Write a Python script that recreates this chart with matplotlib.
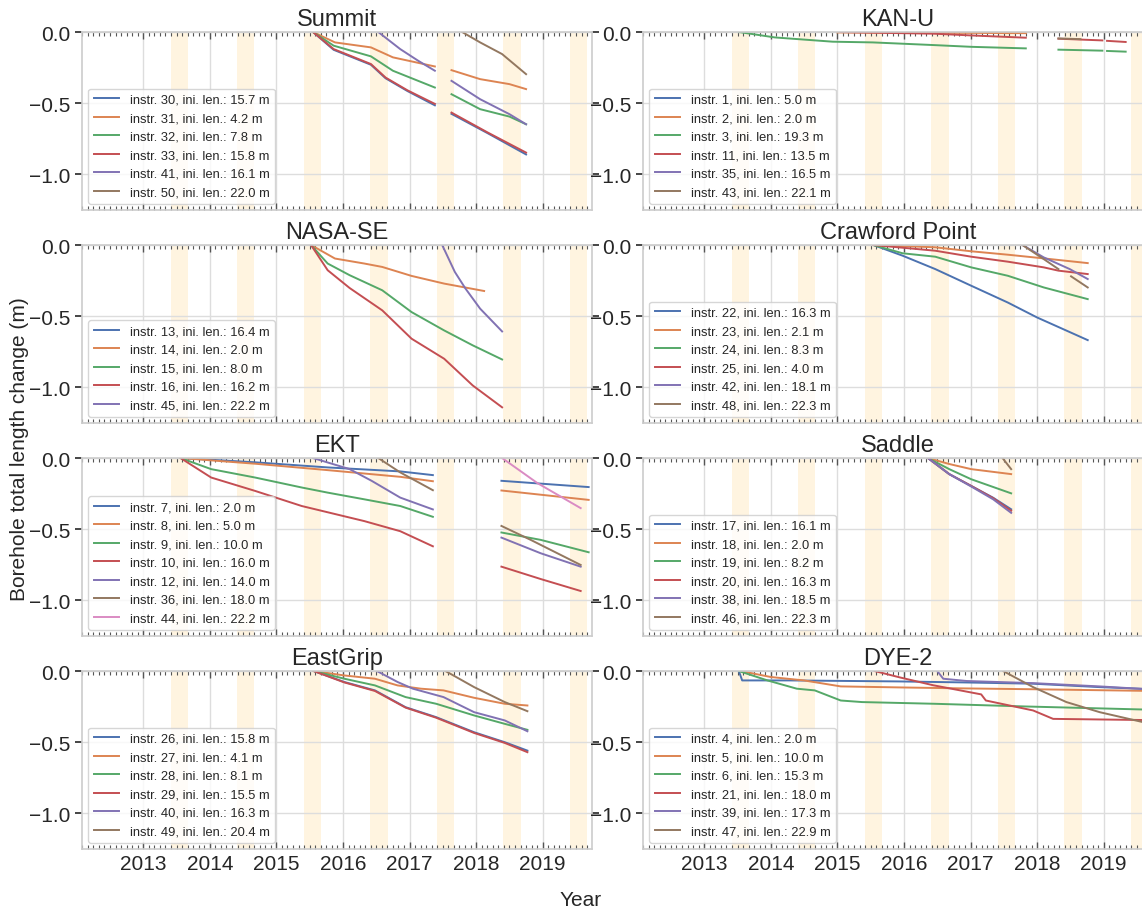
import numpy as np
import matplotlib
matplotlib.use("Agg")
import matplotlib.pyplot as plt
from matplotlib.ticker import MultipleLocator

plt.rcParams['font.family'] = ['Liberation Sans', 'DejaVu Sans']
plt.rcParams['axes.edgecolor'] = '#cccccc'
plt.rcParams['axes.linewidth'] = 1.2
plt.rcParams['text.color'] = '#262626'
plt.rcParams['xtick.color'] = '#262626'
plt.rcParams['ytick.color'] = '#262626'

colors = ['#4c72b0', '#dd8452', '#55a868', '#c44e52', '#8172b3', '#937860', '#da8bc3']
N = None  # data gap

# ---- Summit
summit_instr = [30, 31, 32, 33, 41, 50]
summit_len = [15.7, 4.2, 7.8, 15.8, 16.1, 22.0]
summit_x = [
    [2015.55, 2015.86, 2016.42, 2016.64, 2016.97, 2017.38, N, 2017.63, 2018.17, 2018.75],
    [2015.55, 2015.88, 2016.42, 2016.75, 2017.38, N, 2017.63, 2018.06, 2018.50, 2018.75],
    [2015.55, 2015.86, 2016.42, 2016.75, 2017.38, N, 2017.63, 2018.06, 2018.50, 2018.75],
    [2015.55, 2015.86, 2016.42, 2016.64, 2016.97, 2017.38, N, 2017.63, 2018.17, 2018.75],
    [2016.53, 2016.86, 2017.13, 2017.38, N, 2017.63, 2018.06, 2018.50, 2018.75],
    [2017.79, 2018.06, 2018.39, 2018.75],
]
summit_y = [
    [0.0, -0.125, -0.23, -0.325, -0.415, -0.515, N, -0.575, -0.71, -0.86],
    [0.0, -0.073, -0.108, -0.178, -0.242, N, -0.268, -0.331, -0.366, -0.401],
    [0.0, -0.096, -0.171, -0.272, -0.39, N, -0.437, -0.542, -0.594, -0.648],
    [0.0, -0.12, -0.225, -0.32, -0.41, -0.505, N, -0.566, -0.705, -0.847],
    [0.0, -0.12, -0.202, -0.272, N, -0.343, -0.472, -0.577, -0.648],
    [0.0, -0.073, -0.155, -0.296],
]

# ---- KAN-U
kanu_instr = [1, 2, 3, 11, 35, 43]
kanu_len = [5.0, 2.0, 19.3, 13.5, 16.5, 22.1]
kanu_x = [
    [],
    [2015.0, 2016.0, 2017.0, 2017.83],
    [2013.52, 2014.06, 2014.93, 2015.53, 2016.46, 2017.01, 2017.83, N,
     2018.32, 2018.98, N, 2019.05, 2019.33],
    [2015.05, 2015.6, 2016.46, 2017.01, 2017.83, N,
     2018.32, 2018.98, N, 2019.05, 2019.33],
    [],
    [2018.32, 2018.65],
]
kanu_y = [
    [],
    [-0.003, -0.005, -0.006, -0.008],
    [0.0, -0.038, -0.068, -0.073, -0.092, -0.104, -0.115, N,
     -0.124, -0.131, N, -0.133, -0.138],
    [0.0, -0.005, -0.012, -0.024, -0.04, N,
     -0.047, -0.059, N, -0.062, -0.07],
    [],
    [-0.045, -0.05],
]

# ---- NASA-SE
nasase_instr = [13, 14, 15, 16, 45]
nasase_len = [16.4, 2.0, 8.0, 16.2, 22.2]
nasase_x = [
    [],
    [2015.52, 2015.88, 2016.32, 2016.59, 2017.03, 2017.52, 2018.12],
    [2015.52, 2015.77, 2016.10, 2016.59, 2017.03, 2017.52, 2017.95, 2018.39],
    [2015.52, 2015.77, 2016.10, 2016.59, 2017.03, 2017.52, 2017.95, 2018.39],
    [2017.49, 2017.68, 2017.84, 2018.06, 2018.39],
]
nasase_y = [
    [],
    [0.0, -0.095, -0.13, -0.154, -0.217, -0.271, -0.323],
    [0.0, -0.13, -0.212, -0.318, -0.471, -0.6, -0.705, -0.804],
    [0.0, -0.177, -0.302, -0.459, -0.658, -0.799, -0.987, -1.14],
    [0.0, -0.189, -0.306, -0.447, -0.607],
]

# ---- Crawford Point
crawford_instr = [22, 23, 24, 25, 42, 48]
crawford_len = [16.3, 2.1, 8.3, 4.0, 18.1, 22.3]
crawford_x = [
    [2015.54, 2015.98, 2016.47, 2017.01, 2017.56, 2018.0, 2018.76],
    [2015.54, 2016.47, 2017.01, 2017.56, 2018.10, 2018.76],
    [2015.54, 2015.98, 2016.47, 2017.01, 2017.56, 2018.10, 2018.76],
    [2015.54, 2016.47, 2017.01, 2017.56, 2018.10, 2018.32, 2018.76],
    [2017.78, 2018.10, 2018.49, 2018.76],
    [2017.78, 2018.10, 2018.32, N, 2018.51, 2018.76],
]
crawford_y = [
    [0.0, -0.075, -0.169, -0.286, -0.404, -0.509, -0.668],
    [0.0, -0.016, -0.044, -0.068, -0.094, -0.127],
    [0.0, -0.058, -0.082, -0.157, -0.216, -0.298, -0.38],
    [0.0, -0.04, -0.082, -0.117, -0.157, -0.18, -0.204],
    [0.0, -0.087, -0.169, -0.239],
    [0.0, -0.099, -0.169, N, -0.22, -0.298],
]

# ---- EKT
ekt_instr = [7, 8, 9, 10, 12, 36, 44]
ekt_len = [2.0, 5.0, 10.0, 16.0, 14.0, 18.0, 22.2]
ekt_x = [
    [2013.56, 2014.68, 2015.77, 2016.86, 2017.35, N, 2018.38, 2019.69],
    [2013.56, 2014.68, 2015.77, 2016.86, 2017.35, N, 2018.38, 2019.69],
    [2013.56, 2014.02, 2014.68, 2015.38, 2015.77, 2016.32, 2016.86, 2017.35, N,
     2018.38, 2018.97, 2019.69],
    [2013.56, 2014.02, 2014.68, 2015.38, 2016.32, 2016.86, 2017.35, N,
     2018.38, 2018.97, 2019.57],
    [2015.55, 2016.10, 2016.43, 2016.86, 2017.35, N, 2018.38, 2018.97, 2019.57],
    [2016.53, 2016.86, 2017.35, N, 2018.38, 2018.82, 2019.57],
    [2018.39, 2018.92, 2019.57],
]
ekt_y = [
    [0.0, -0.03, -0.066, -0.094, -0.12, N, -0.16, -0.204],
    [0.0, -0.04, -0.085, -0.132, -0.163, N, -0.228, -0.294],
    [0.0, -0.078, -0.137, -0.207, -0.243, -0.29, -0.337, -0.413, N,
     -0.523, -0.575, -0.662],
    [0.0, -0.137, -0.231, -0.337, -0.443, -0.514, -0.62, N,
     -0.763, -0.85, -0.934],
    [0.0, -0.078, -0.16, -0.278, -0.361, N, -0.559, -0.669, -0.763],
    [0.0, -0.101, -0.226, N, -0.477, -0.575, -0.751],
    [0.0, -0.176, -0.352],
]

# ---- Saddle
saddle_instr = [17, 18, 19, 20, 38, 46]
saddle_len = [16.1, 2.0, 8.2, 16.3, 18.5, 22.3]
saddle_x = [
    [2016.36, 2016.68, 2017.01, 2017.34, 2017.61],
    [2016.36, 2016.68, 2017.01, 2017.61],
    [2016.36, 2016.68, 2017.01, 2017.61],
    [2016.36, 2016.68, 2017.01, 2017.34, 2017.61],
    [2016.36, 2016.68, 2017.01, 2017.34, 2017.61],
    [2017.48, 2017.61],
]
saddle_y = [
    [0.0, -0.113, -0.196, -0.279, -0.36],
    [0.0, -0.042, -0.078, -0.113],
    [0.0, -0.078, -0.149, -0.248],
    [0.0, -0.113, -0.196, -0.282, -0.37],
    [0.0, -0.113, -0.2, -0.29, -0.385],
    [0.0, -0.078],
]

# ---- EastGrip
eastgrip_instr = [26, 27, 28, 29, 40, 49]
eastgrip_len = [15.8, 4.1, 8.1, 15.5, 16.3, 20.4]
eastgrip_x = [
    [2015.56, 2016.02, 2016.48, 2016.94, 2017.40, 2017.97, 2018.43, 2018.77],
    [2015.56, 2016.02, 2016.48, 2016.82, 2017.17, 2017.51, 2017.97, 2018.43, 2018.77],
    [2015.56, 2016.02, 2016.48, 2016.94, 2017.40, 2017.97, 2018.43, 2018.77],
    [2015.56, 2016.02, 2016.48, 2016.94, 2017.40, 2017.97, 2018.43, 2018.77],
    [2016.51, 2016.82, 2017.05, 2017.51, 2017.97, 2018.43, 2018.77],
    [2017.54, 2017.97, 2018.43, 2018.77],
]
eastgrip_y = [
    [0.0, -0.077, -0.136, -0.254, -0.324, -0.43, -0.5, -0.559],
    [0.0, -0.031, -0.054, -0.101, -0.124, -0.136, -0.188, -0.23, -0.242],
    [0.0, -0.054, -0.101, -0.183, -0.23, -0.312, -0.371, -0.413],
    [0.0, -0.08, -0.14, -0.257, -0.328, -0.435, -0.505, -0.57],
    [0.0, -0.077, -0.124, -0.183, -0.289, -0.347, -0.423],
    [0.0, -0.113, -0.218, -0.282],
]

# ---- DYE-2
dye2_instr = [4, 5, 6, 21, 39, 47]
dye2_len = [2.0, 10.0, 15.3, 18.0, 17.3, 22.9]
dye2_x = [
    [2013.52, 2013.57, 2014.28, 2015.92, 2016.9, 2017.94, 2018.94, 2019.74],
    [2013.55, 2014.0, 2014.5, 2015.05, 2015.92, 2016.9, 2017.94, 2019.74],
    [2013.52, 2013.95, 2014.39, 2014.66, 2015.05, 2015.37, 2016.46, 2017.83, 2019.74],
    [2015.56, 2015.94, 2016.44, 2017.16, 2017.23, 2017.94, 2018.24, 2019.74],
    [2016.5, 2016.59, 2016.94, 2017.94, 2018.94, 2019.74],
    [2017.49, 2017.94, 2018.44, 2018.94, 2019.74],
]
dye2_y = [
    [0.0, -0.066, -0.066, -0.073, -0.08, -0.089, -0.113, -0.128],
    [0.0, -0.042, -0.066, -0.108, -0.115, -0.122, -0.128, -0.14],
    [0.0, -0.066, -0.124, -0.136, -0.207, -0.218, -0.23, -0.249, -0.272],
    [0.0, -0.045, -0.1, -0.164, -0.207, -0.277, -0.336, -0.345],
    [0.0, -0.054, -0.07, -0.085, -0.108, -0.13],
    [0.0, -0.113, -0.218, -0.289, -0.375],
]

panels = [
    ('Summit', summit_instr, summit_len, summit_x, summit_y),
    ('KAN-U', kanu_instr, kanu_len, kanu_x, kanu_y),
    ('NASA-SE', nasase_instr, nasase_len, nasase_x, nasase_y),
    ('Crawford Point', crawford_instr, crawford_len, crawford_x, crawford_y),
    ('EKT', ekt_instr, ekt_len, ekt_x, ekt_y),
    ('Saddle', saddle_instr, saddle_len, saddle_x, saddle_y),
    ('EastGrip', eastgrip_instr, eastgrip_len, eastgrip_x, eastgrip_y),
    ('DYE-2', dye2_instr, dye2_len, dye2_x, dye2_y),
]

summer_years = [2013, 2014, 2015, 2016, 2017, 2018, 2019]

fig, axes = plt.subplots(4, 2, figsize=(11.42, 9.12), dpi=100, sharex=True)
fig.subplots_adjust(left=0.0718, right=1.0096, top=0.9638, bottom=0.068,
                    hspace=0.197, wspace=0.1)

for ax, (name, instr, lens, xs, ys) in zip(axes.flat, panels):
    for yr in summer_years:
        ax.axvspan(yr + 0.41, yr + 0.67, color='#ffa500', alpha=0.12, lw=0, zorder=0)
    for k in range(len(instr)):
        x = np.array(xs[k], dtype=float)
        y = np.array(ys[k], dtype=float)
        ax.plot(x, y, color=colors[k], lw=1.4,
                label='instr. %d, ini. len.: %.1f m' % (instr[k], lens[k]))
    ax.set_title(name, fontsize=17, pad=5)
    ax.set_ylim(-1.25, 0)
    ax.set_xlim(2012.08, 2019.74)
    ax.set_yticks([0.0, -0.5, -1.0])
    ax.xaxis.set_major_locator(MultipleLocator(1))
    ax.xaxis.set_minor_locator(MultipleLocator(1 / 12))
    ax.grid(True, color='#dddddd', lw=1, zorder=0)
    ax.set_axisbelow(True)
    ax.tick_params(axis='x', which='both', direction='in', top=True, bottom=True,
                   labelsize=15, color='#555555')
    ax.tick_params(axis='x', which='major', length=5, width=1)
    ax.tick_params(axis='x', which='minor', length=3, width=0.8)
    ax.tick_params(axis='y', which='major', direction='out', left=True, right=True,
                   length=5, width=1.2, labelsize=15, labelleft=True)
    leg = ax.legend(loc='lower left', fontsize=9.3, framealpha=0.8,
                    edgecolor='#cccccc', labelspacing=0.5)
    leg.get_frame().set_linewidth(1.0)

for ax in axes[-1]:
    ax.set_xticks(summer_years)
    ax.set_xticklabels([str(y) for y in summer_years])

fig.text(0.0175, 0.507, 'Borehole total length change (m)', rotation=90,
         ha='center', va='center', fontsize=15)
fig.text(0.508, 0.013, 'Year', ha='center', va='center', fontsize=15)

fig.savefig('out.png', dpi=100)
